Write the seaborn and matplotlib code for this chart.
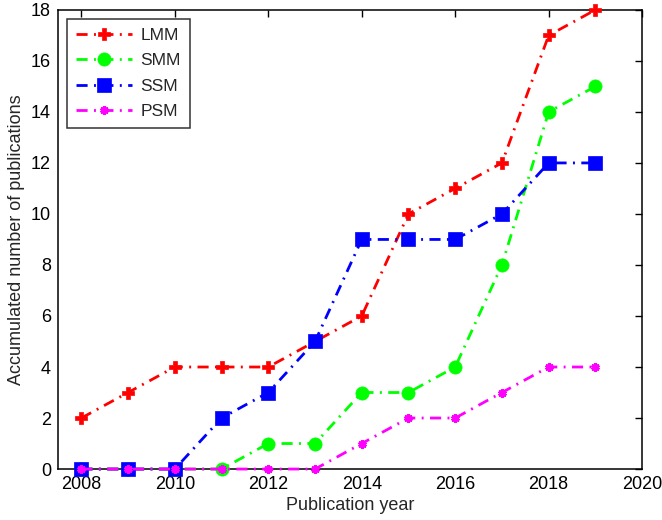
import matplotlib
matplotlib.use("Agg")
import matplotlib.pyplot as plt
import seaborn as sns
import pandas as pd

years = [2008, 2009, 2010, 2011, 2012, 2013, 2014, 2015, 2016, 2017, 2018, 2019]
lmm = [2, 3, 4, 4, 4, 5, 6, 10, 11, 12, 17, 18]
smm = [0, 0, 0, 0, 1, 1, 3, 3, 4, 8, 14, 15]
ssm = [0, 0, 0, 2, 3, 5, 9, 9, 9, 10, 12, 12]
psm = [0, 0, 0, 0, 0, 0, 1, 2, 2, 3, 4, 4]

series = {"LMM": lmm, "SMM": smm, "SSM": ssm, "PSM": psm}
colors = {"LMM": "#ff0000", "SMM": "#00ff00", "SSM": "#0000ff", "PSM": "#ff00ff"}
markers = {"LMM": "P", "SMM": "o", "SSM": "s", "PSM": (6, 2, 0)}
msize = {"LMM": 8.5, "SMM": 9.5, "SSM": 10, "PSM": 6}
medge = {"LMM": 0.5, "SMM": 0.5, "SSM": 0.5, "PSM": 2.2}

sns.set_theme(style="white")
plt.rcParams["font.family"] = ["Liberation Sans", "DejaVu Sans"]

df = pd.DataFrame([
    {"year": y, "count": v, "method": name}
    for name, vals in series.items() for y, v in zip(years, vals)
])

fig, ax = plt.subplots(figsize=(6.62, 5.2), dpi=100)
fig.subplots_adjust(left=0.0876, right=0.970, top=0.981, bottom=0.098)

dash = (0, (4, 2.3, 0.7, 2.3))
for name in series:
    sub = df[df["method"] == name]
    sns.lineplot(data=sub, x="year", y="count", ax=ax, color=colors[name],
                 linestyle=dash, linewidth=2,
                 marker=markers[name], markersize=msize[name],
                 markeredgewidth=medge[name],
                 markeredgecolor=colors[name], markerfacecolor=colors[name],
                 label=name, zorder=3, clip_on=False)

ax.set_xlim(2007.5, 2020)
ax.set_ylim(0, 18)
ax.set_xticks(range(2008, 2021, 2))
ax.set_yticks(range(0, 19, 2))
ax.tick_params(direction="in", length=5, width=1.0, top=True, right=True,
               labelsize=13, colors="black", pad=5)
for s in ax.spines.values():
    s.set_color("black")
    s.set_linewidth(1.1)
    s.set_zorder(2)
ax.set_xlabel("Publication year", fontsize=13, labelpad=3)
ax.set_ylabel("Accumulated number of publications", fontsize=13, labelpad=4)

leg = ax.legend(loc="upper left", fontsize=12.5, frameon=True, fancybox=False,
                edgecolor="black", borderpad=0.55, handlelength=3.2,
                handletextpad=0.5, labelspacing=0.58, borderaxespad=0.5)
leg.get_frame().set_linewidth(1.1)
leg.set_zorder(5)

fig.savefig("out.png", dpi=100)
